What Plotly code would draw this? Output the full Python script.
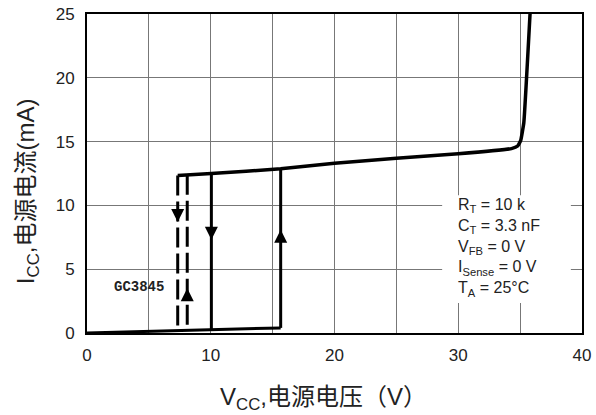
import plotly.graph_objects as go

# data (V, mA)
bottom_v = [0, 15.65]
bottom_i = [0, 0.4]
rise_v = [15.65, 15.65]
rise_i = [0.4, 12.87]
top_v = [7.33, 10.05, 15.65, 20, 25, 30, 34.3, 34.8, 35.05, 35.3, 35.8]
top_i = [12.35, 12.5, 12.87, 13.3, 13.69, 14.05, 14.45, 14.65, 15.1, 16.5, 25]
fall_v = [10.05, 10.05]
fall_i = [12.5, 0.25]
dash1_v = [7.33, 7.33]
dash1_i = [12.35, 0.15]
dash2_v = [8.1, 8.1]
dash2_i = [12.4, 0.2]
arrow_down_v = [7.33, 10.05]
arrow_down_i = [8.7, 7.3]
arrow_up_v = [15.65, 8.1]
arrow_up_i = [8.1, 3.5]

xticks = [0, 10, 20, 30, 40]
yticks = [0, 5, 10, 15, 20, 25]

fig = go.Figure()
solid = dict(color="black", width=3)
fig.add_trace(go.Scatter(x=bottom_v, y=bottom_i, mode="lines", line=solid))
fig.add_trace(go.Scatter(x=rise_v, y=rise_i, mode="lines", line=solid))
fig.add_trace(go.Scatter(x=top_v, y=top_i, mode="lines", line=dict(color="black", width=3.5, shape="spline", smoothing=0.3)))
fig.add_trace(go.Scatter(x=fall_v, y=fall_i, mode="lines", line=solid))
fig.add_trace(go.Scatter(x=dash1_v, y=dash1_i, mode="lines", line=dict(color="black", width=3, dash="20px,6px")))
fig.add_trace(go.Scatter(x=dash2_v, y=dash2_i, mode="lines", line=dict(color="black", width=3, dash="20px,6px")))
fig.add_trace(go.Scatter(x=arrow_down_v, y=arrow_down_i, mode="markers",
                         marker=dict(symbol="arrow-down", size=13, color="black", line=dict(width=0))))
fig.add_trace(go.Scatter(x=arrow_up_v, y=arrow_up_i, mode="markers",
                         marker=dict(symbol="arrow-up", size=13, color="black", line=dict(width=0))))

font = "Liberation Sans, Arial, Noto Sans CJK SC, sans-serif"
fig.update_layout(
    width=596, height=415, autosize=False,
    margin=dict(l=87, r=14, t=14, b=82, autoexpand=False),
    plot_bgcolor="white", paper_bgcolor="white",
    showlegend=False,
    font=dict(family=font, size=17, color="#222"),
    xaxis=dict(range=[0, 40], tickvals=xticks, showgrid=True, automargin=False,
               gridcolor="#777", gridwidth=1, showline=True, linecolor="black",
               linewidth=2, mirror=True, ticks="", zeroline=False,
               tickfont=dict(size=17, color="#222"), ticklabelstandoff=6,
               minor=dict(dtick=5, tick0=0, showgrid=True, gridcolor="#777", gridwidth=1)),
    yaxis=dict(range=[0, 25], tickvals=yticks, showgrid=True, gridcolor="#777",
               gridwidth=1, showline=True, linecolor="black", linewidth=2, automargin=False,
               mirror=True, ticks="", zeroline=False,
               tickfont=dict(size=17, color="#222"), ticklabelstandoff=7),
)

fig.add_shape(type="rect", xref="x", yref="y", x0=28.7, x1=39.1, y0=2.35, y1=10.8,
              fillcolor="white", line=dict(width=0), layer="between")

fig.add_annotation(x=29.8, y=10.9, xref="x", yref="y", xanchor="left", yanchor="top",
                   showarrow=False, align="left",
                   text="R<sub>T</sub> = 10 k<br>C<sub>T</sub> = 3.3 nF<br>V<sub>FB</sub> = 0 V<br>I<sub>Sense</sub> = 0 V<br>T<sub>A</sub> = 25°C",
                   font=dict(family=font, size=16, color="#222"))

fig.add_annotation(x=2.0, y=3.6, xref="x", yref="y", xanchor="left", yanchor="middle",
                   showarrow=False, text="<b>GC3845</b>",
                   font=dict(family="Liberation Mono, DejaVu Sans Mono, monospace", size=14, color="#222"))

fig.add_annotation(x=-0.121, y=0.445, xref="paper", yref="paper", showarrow=False,
                   xanchor="center", yanchor="middle",
                   text="I<sub>CC</sub>,电源电流(mA)", textangle=-90,
                   font=dict(family=font, size=24, color="#222"))

fig.add_annotation(x=0.478, y=-0.205, xref="paper", yref="paper", showarrow=False,
                   xanchor="center", yanchor="middle",
                   text="V<sub>CC</sub>,电源电压（V）",
                   font=dict(family=font, size=24, color="#222"))

fig.write_html("out.html", config={"displayModeBar": False, "responsive": False},
               post_script="document.body.style.margin='0';")
